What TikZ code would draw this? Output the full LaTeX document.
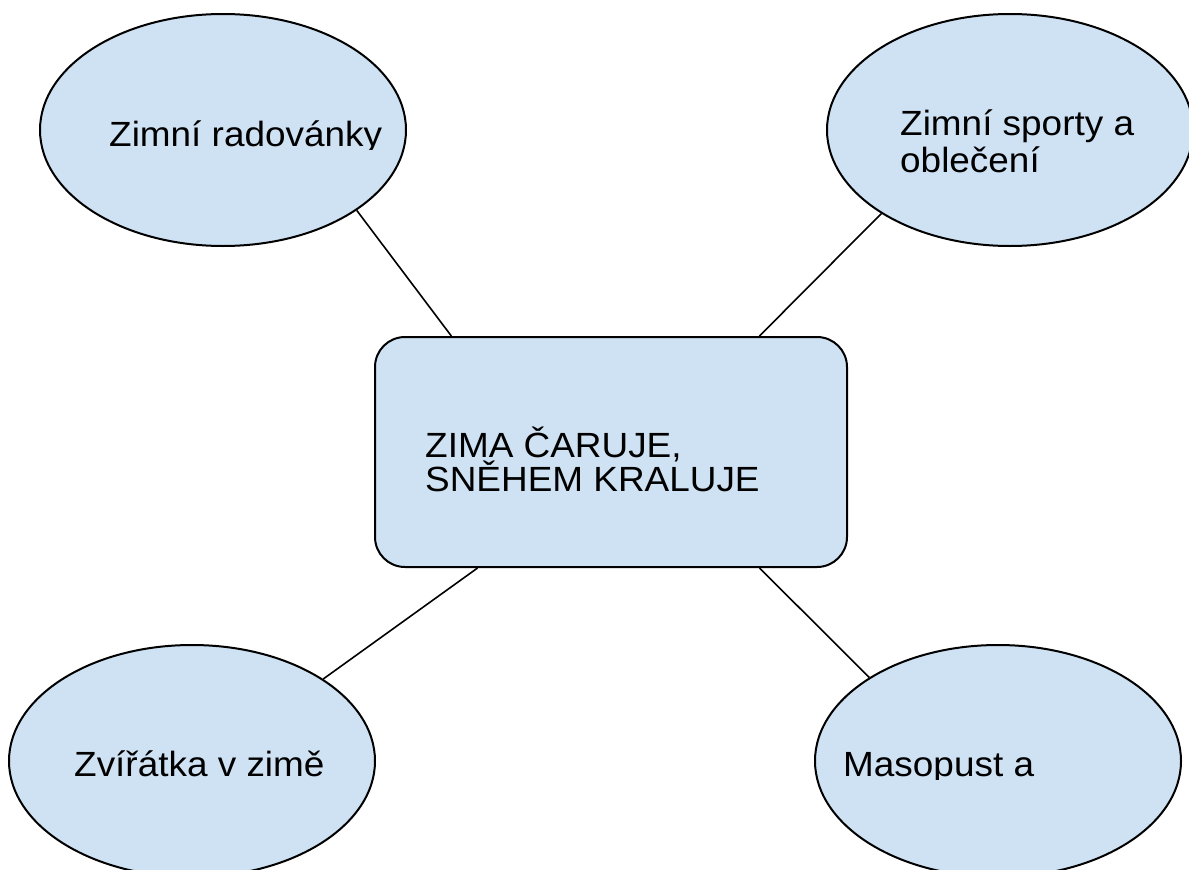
\documentclass[tikz,border=0pt]{standalone}
\usepackage{fontspec}
\setmainfont{Liberation Sans}
\newfontfamily\mapfont[FakeStretch=1.055]{Liberation Sans}
\usetikzlibrary{shapes.geometric}
\definecolor{bubblefill}{HTML}{CFE2F3}
\begin{document}
\begin{tikzpicture}[x=1pt,y=-1pt,
  bubble/.style={ellipse, draw=black, fill=bubblefill, line width=2pt, minimum width=366pt, minimum height=232pt, inner sep=0pt},
  hub/.style={rectangle, rounded corners=30pt, draw=black, fill=bubblefill, line width=2pt, minimum width=472pt, minimum height=230pt, inner sep=0pt},
  link/.style={line width=1.6pt},
  txt/.style={anchor=base west, inner sep=0pt, font=\mapfont\fontsize{35}{39}\selectfont}]
\useasboundingbox (0,0) rectangle (1189,870);
\clip (0,0) rectangle (1189,870);
\fill[white] (0,0) rectangle (1189,870);

\node[bubble] (e1) at (223,130) {};
\node[bubble] (e2) at (1010,130) {};
\node[bubble] (e3) at (192,761) {};
\node[bubble] (e4) at (998,761) {};
\node[hub] (c) at (611,452) {};

\draw[link] (e1.-31.9) -- (c.144.2);
\draw[link] (e2.213.6) -- (c.38);
\draw[link] (e3.32.4) -- (c.221.5);
\draw[link] (e4.147.4) -- (c.-38.6);

\begin{scope}
\clip (0,0) rectangle (1189,149.5);
\node[txt] (t1) at (109,146.7) {Zimní radovánky};
\end{scope}
\begin{scope}
\clip (0,0) rectangle (1189,176);
\node[txt] (t2a) at (900,135.5) {Zimní sporty a};
\node[txt] (t2b) at (900,172.5) {oblečení};
\end{scope}
\node[txt] (t3) at (74,776) {Zvířátka v zimě};
\begin{scope}
\clip (0,0) rectangle (1189,779);
\node[txt] (t4) at (843,776.7) {Masopust a};
\end{scope}
\node[txt] (t5a) at (425,457.7) {ZIMA ČARUJE,};
\node[txt] (t5b) at (425,491.7) {SNĚHEM KRALUJE};
\end{tikzpicture}
\end{document}
